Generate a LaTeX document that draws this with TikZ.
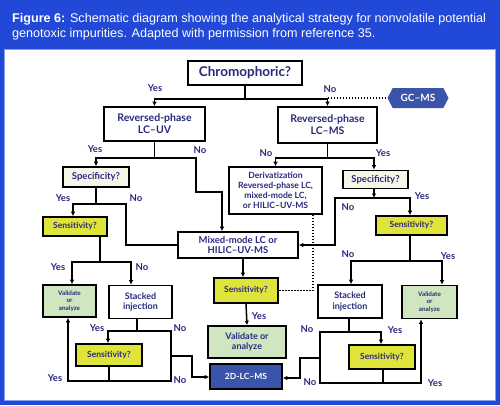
\documentclass[tikz,border=0pt]{standalone}
\usepackage{fontspec}
\setmainfont{Liberation Sans}
\newfontfamily\dfont{Lato}
\usetikzlibrary{arrows.meta,shapes.symbols}
\definecolor{bannerblue}{RGB}{33,72,214}
\definecolor{panelline}{RGB}{130,160,240}
\definecolor{navy}{RGB}{42,42,125}
\definecolor{yel}{RGB}{222,228,58}
\definecolor{grn}{RGB}{208,230,192}
\definecolor{pale}{RGB}{246,246,232}
\definecolor{dblue}{RGB}{58,84,170}
\tikzset{
  box/.style={draw=black, line width=1.6pt, inner sep=0pt, align=center, text=navy, fill=white},
  sz/.style 2 args={minimum width=#1, minimum height=#2},
  fs/.style={font=\dfont\bfseries\fontsize{#1}{#1}\selectfont\baselineskip 1.15\baselineskip},
  spec/.style={box, fill=pale},
  sens/.style={box, fill=yel},
  valid/.style={box, fill=grn},
  dark/.style={box, fill=dblue, text=white},
  lab/.style={text=navy, inner sep=0pt, font=\dfont\bfseries\fontsize{9.5}{11}\selectfont},
  conn/.style={line width=1.5pt, draw=black},
  arr/.style={conn, -{Latex[length=4.5pt,width=4.5pt]}},
  dots/.style={line width=1.5pt, dash pattern=on 1.5pt off 1.5pt}
}
\begin{document}
\begin{tikzpicture}[x=1pt,y=-1pt]
\useasboundingbox (0,0) rectangle (500,405);
\fill[bannerblue] (0,0) rectangle (500,405);
\draw[fill=white, draw=panelline, line width=1pt] (4.5,49.5) rectangle (495.5,400.5);
\node[anchor=base west, align=left, text=white, inner sep=0pt,
      font=\fontsize{12.6}{14.5}\selectfont] (cap) at (12,37)
  {\textbf{Figure 6:} Schematic diagram showing the analytical strategy for nonvolatile potential\\
   genotoxic impurities. Adapted with permission from reference 35.};

% nodes
\node[box, sz={114pt}{24pt}, fs=13.5] (chrom) at (245,73) {Chromophoric?};
\node[shape=signal, signal to=west and east, signal pointer angle=125, fill=dblue, text=white,
      inner sep=0pt, minimum width=61pt, minimum height=20pt, fs=10] (gcms) at (418,98) {GC–MS};
\node[box, sz={101pt}{34pt}, fs=10.5] (rpuv) at (154.5,124) {Reversed-phase\\LC–UV};
\node[box, sz={99pt}{36pt}, fs=10.5] (rpms) at (327.5,125) {Reversed-phase\\LC–MS};
\node[box, sz={93pt}{47pt}, fs=8.6] (deriv) at (275.5,190.5) {Derivatization\\Reversed-phase LC,\\mixed-mode LC,\\or HILIC–UV-MS};
\node[spec, sz={66pt}{20pt}, fs=9.5] (specL) at (96,177) {Specificity?};
\node[spec, sz={65pt}{18pt}, fs=9.5] (specR) at (375.5,179.5) {Specificity?};
\node[box, sz={120pt}{26pt}, fs=9.5] (mixed) at (238,245) {Mixed-mode LC or\\HILIC–UV-MS};
\node[sens, sz={64pt}{19pt}, fs=8.5] (sensL) at (75,226.5) {Sensitivity?};
\node[sens, sz={71pt}{19pt}, fs=8.5] (sensR) at (411.5,225.5) {Sensitivity?};
\node[sens, sz={64pt}{25pt}, fs=8.5] (sensC) at (246,290.5) {Sensitivity?};
\node[valid, sz={53pt}{32pt}, fs=6.3] (valL) at (69.5,301) {Validate\\or\\analyze};
\node[valid, sz={55pt}{33pt}, fs=6.3] (valR) at (429.5,302) {Validate\\or\\analyze};
\node[box, sz={63pt}{33pt}, fs=9] (stackL) at (140.5,302) {Stacked\\injection};
\node[box, sz={64pt}{33pt}, fs=9] (stackR) at (350,301.5) {Stacked\\injection};
\node[sens, sz={66pt}{22pt}, fs=8.5] (sensLL) at (109,355) {Sensitivity?};
\node[sens, sz={66pt}{24pt}, fs=8.5] (sensRR) at (382,357) {Sensitivity?};
\node[valid, sz={78pt}{32pt}, fs=9] (valC) at (247,342) {Validate or\\analyze};
\node[dark, sz={72pt}{25pt}, fs=8.5] (lc2d) at (246,376.5) {2D-LC–MS};

% connectors
\draw[arr] (chrom.south) -- ++(0,13) -| (rpuv.north);
\draw[arr] (chrom.south) -- ++(0,13) -| (rpms.north);
\draw[dots] (rpms.north |- gcms.west) -- (gcms.west);

\draw[arr] (rpuv.south) -- ++(0,16) -| (specL.north);
\draw[arr] (rpuv.south) -- ++(0,16) -| (196,192) -| (mixed.north -| 222,0);

\draw[arr] (rpms.south) -- ++(0,14) -| (deriv.north);
\draw[arr] (rpms.south) -- ++(0,14) -| (specR.north -| 374,0);
\draw[dots] (deriv.south -| 313,0) |- (sensC.east);

\draw[arr] (specL.south) -- ++(0,16) -| (sensL.north -| 73,0);
\draw[conn] (specL.south) -- ++(0,16) -| (126,245) -- (mixed.west);

\draw[arr] (specR.south -| 374,0) -- (374,198);
\draw[arr] (374,198) -| (sensR.north -| 410,0);
\draw[arr] (374,198) -| (335,245) -- (mixed.east);

\draw[arr] (mixed.south -| 243,0) -- (sensC.north -| 243,0);
\draw[arr] (sensC.south) -- (valC.north);

\draw[arr] (sensL.south -| 100,0) -- (100,262) -| (valL.north -| 72,0);
\draw[arr] (100,262) -| (stackL.north -| 131,0);

\draw[arr] (stackL.south -| 137,0) -- (137,331) -| (sensLL.north -| 108,0);
\draw[arr] (137,331) -| (171,381) -| (valL.south -| 68,0);
\draw[conn] (sensLL.south) -- (sensLL.south |- 0,381);
\draw[arr] (171,356) -| (192,377) -- (lc2d.west |- 0,377);

\draw[arr] (sensR.south -| 410,0) -- (410,261) -| (stackR.north -| 351,0);
\draw[arr] (410,261) -| (valR.north -| 442,0);

\draw[arr] (stackR.south -| 349,0) -- (349,332) -| (sensRR.north -| 381,0);
\draw[arr] (349,332) -| (320,383) -| (valR.south -| 421,0);
\draw[conn] (sensRR.south -| 383,0) -- (383,383);
\draw[arr] (320,358) -| (300,378) -- (lc2d.east |- 0,378);

% labels
\node[lab] (l1) at (155,88) {Yes};
\node[lab] (l2) at (330,89) {No};
\node[lab] (l3) at (95,149) {Yes};
\node[lab] (l4) at (200,150) {No};
\node[lab] (l5) at (266,153) {No};
\node[lab] (l6) at (383,153) {Yes};
\node[lab] (l7) at (63,198) {Yes};
\node[lab] (l8) at (136,198) {No};
\node[lab] (l9) at (422,196) {Yes};
\node[lab] (l10) at (348,207) {No};
\node[lab] (l11) at (58,267) {Yes};
\node[lab] (l12) at (142,267) {No};
\node[lab] (l13) at (348,254) {No};
\node[lab] (l14) at (448,256) {Yes};
\node[lab] (l15) at (259,316) {Yes};
\node[lab] (l16) at (97,328) {Yes};
\node[lab] (l17) at (180,328) {No};
\node[lab] (l18) at (55,378) {Yes};
\node[lab] (l19) at (180,380) {No};
\node[lab] (l20) at (307,329) {No};
\node[lab] (l21) at (395,330) {Yes};
\node[lab] (l22) at (310,382) {No};
\node[lab] (l23) at (435,383) {Yes};
\end{tikzpicture}
\end{document}
